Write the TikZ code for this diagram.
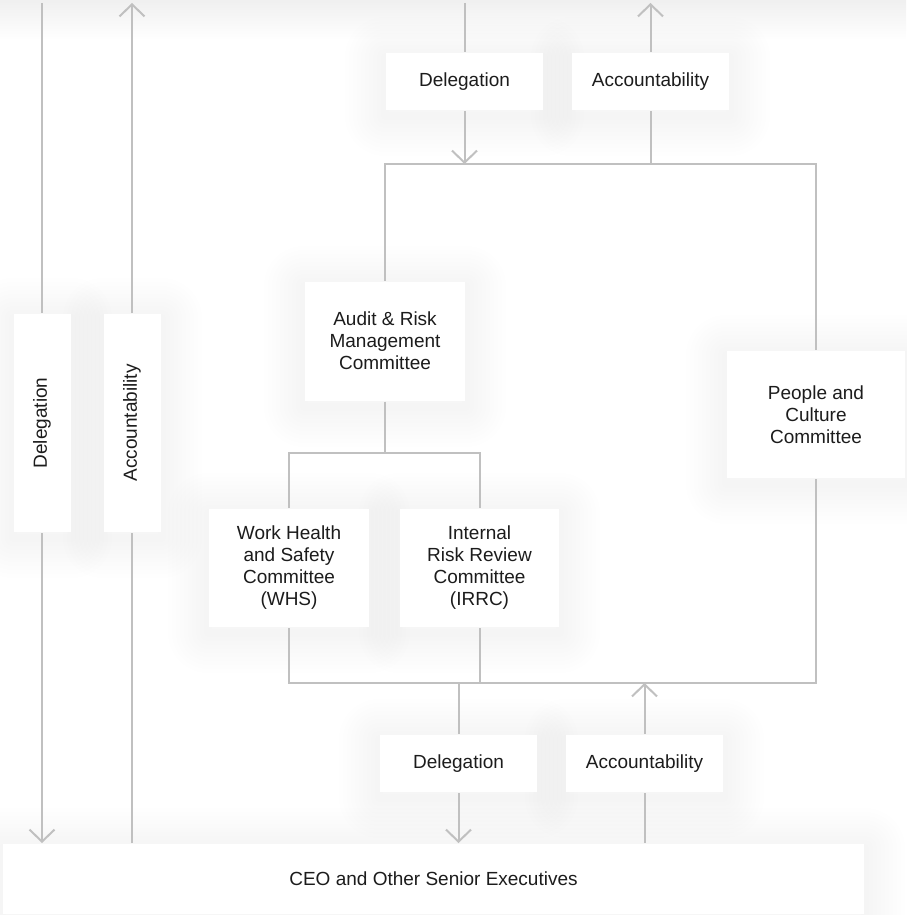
\documentclass[tikz,border=0pt]{standalone}
\usepackage{fontspec}
\setmainfont{Liberation Sans}
\usepackage{tikz}
\usetikzlibrary{arrows.meta}
\usetikzlibrary{backgrounds}
\definecolor{linegray}{RGB}{192,192,192}
\definecolor{ink}{RGB}{28,28,28}

\begin{document}
\begin{tikzpicture}[x=1pt, y=-1pt, line width=2pt,
	box/.style={fill=white, text=ink, align=center, inner sep=0pt, font=\fontsize{19}{22}\selectfont},
	link/.style={draw=linegray},
	arr/.style={draw=linegray, -{Straight Barb[length=12pt, width=25pt]}},
	halo/.style={draw=black, draw opacity=0.0035, line join=round}]
	\useasboundingbox (0,0) rectangle (906,915);

	\node[box, minimum width=157pt, minimum height=57pt] (del_top) at (464.5,81.5) {Delegation};
	\node[box, minimum width=157pt, minimum height=57pt] (acc_top) at (650.5,81.5) {Accountability};
	\node[box, minimum width=160pt, minimum height=119pt] (audit) at (385,341) {Audit \& Risk\\Management\\Committee};
	\node[box, minimum width=160pt, minimum height=118pt] (whs) at (289,568) {Work Health\\and Safety\\Committee\\(WHS)};
	\node[box, minimum width=159pt, minimum height=118pt] (irrc) at (479.5,568) {Internal\\Risk Review\\Committee\\(IRRC)};
	\node[box, minimum width=178pt, minimum height=127pt] (people) at (816,414.5) {People and\\Culture\\Committee};
	\node[box, minimum width=157pt, minimum height=57pt] (del_bot) at (458.5,763.5) {Delegation};
	\node[box, minimum width=157pt, minimum height=57pt] (acc_bot) at (644.5,763.5) {Accountability};
	\node[box, minimum width=861pt, minimum height=70pt] (ceo) at (433.5,879) {CEO and Other Senior Executives};
	\node[box, rotate=90, minimum width=218pt, minimum height=57pt] (del_left) at (42,423) {Delegation};
	\node[box, rotate=90, minimum width=218pt, minimum height=57pt] (acc_left) at (132,423) {Accountability};

	\coordinate (top) at (0,3);
	\coordinate (fr) at (816,164);
	\coordinate (split) at (385,453);
	\coordinate (fb) at (816,683);

	\draw[link] (del_left |- top) -- (del_left);
	\draw[arr] (del_left) -- (del_left |- ceo.north);
	\draw[link] (acc_left |- ceo.north) -- (acc_left);
	\draw[arr] (acc_left) -- (acc_left |- top);

	\draw[link] (del_top |- top) -- (del_top);
	\draw[arr] (del_top) -- (del_top |- fr);
	\draw[link] (acc_top |- fr) -- (acc_top);
	\draw[arr] (acc_top) -- (acc_top |- top);

	\draw[link] (audit) |- (fr) -- (people);
	\draw[link] (audit) -- (split);
	\draw[link] (whs) |- (split) -| (irrc);
	\draw[link] (whs) |- (fb) -- (people);
	\draw[link] (irrc) -- (irrc |- fb);

	\draw[link] (del_bot |- fb) -- (del_bot);
	\draw[arr] (del_bot) -- (del_bot |- ceo.north);
	\draw[link] (acc_bot |- ceo.north) -- (acc_bot);
	\draw[arr] (acc_bot) -- (acc_bot |- fb);

	\begin{pgfonlayer}{background}
		\fill[white] (0,0) rectangle (906,915);
		\shade[top color=black!6, bottom color=white] (0,0) rectangle (906,40);
		\foreach \n in {del_top,acc_top,audit,whs,irrc,people,del_bot,acc_bot,ceo,del_left,acc_left}
			\foreach \w in {8,16,...,80}
				\draw[halo, line width=\w pt] ([yshift=-5pt]\n.south west) rectangle ([yshift=-5pt]\n.north east);
	\end{pgfonlayer}
\end{tikzpicture}
\end{document}
